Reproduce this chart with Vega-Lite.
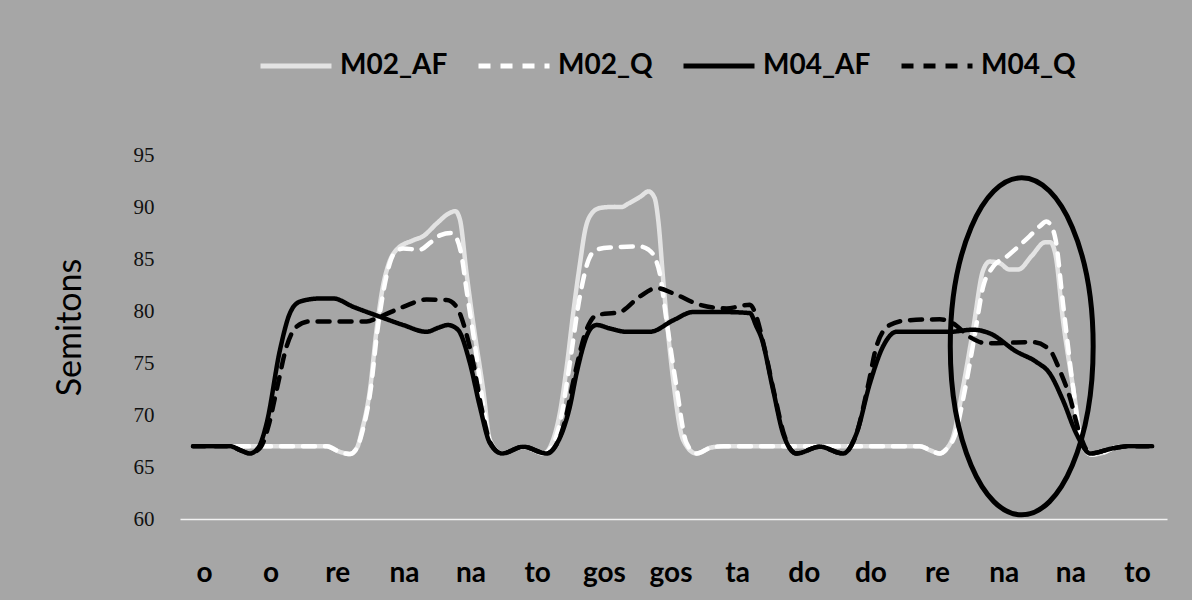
{
  "$schema": "https://vega.github.io/schema/vega-lite/v6.json",
  "width": 987,
  "height": 364,
  "autosize": "none",
  "padding": {"left": 180, "top": 155, "right": 25, "bottom": 81},
  "background": "#a6a6a6",
  "config": {"view": {"stroke": null}, "font": "Lato"},
  "datasets": {
    "contours": [
      {"s": "M02_AF", "t": -0.165, "v": 67}, {"s": "M02_AF", "t": 0.4, "v": 67}, {"s": "M02_AF", "t": 1.0, "v": 67}, {"s": "M02_AF", "t": 1.6, "v": 67}, {"s": "M02_AF", "t": 1.84, "v": 67}, {"s": "M02_AF", "t": 2.02, "v": 66.5}, {"s": "M02_AF", "t": 2.19, "v": 66.25}, {"s": "M02_AF", "t": 2.3, "v": 66.9}, {"s": "M02_AF", "t": 2.37, "v": 68.5}, {"s": "M02_AF", "t": 2.49, "v": 72.4}, {"s": "M02_AF", "t": 2.59, "v": 78.2}, {"s": "M02_AF", "t": 2.68, "v": 82.2}, {"s": "M02_AF", "t": 2.77, "v": 84.5}, {"s": "M02_AF", "t": 2.89, "v": 85.9}, {"s": "M02_AF", "t": 3.14, "v": 86.8}, {"s": "M02_AF", "t": 3.29, "v": 87.2}, {"s": "M02_AF", "t": 3.49, "v": 88.4}, {"s": "M02_AF", "t": 3.68, "v": 89.4}, {"s": "M02_AF", "t": 3.77, "v": 89.6}, {"s": "M02_AF", "t": 3.84, "v": 88.8}, {"s": "M02_AF", "t": 3.94, "v": 83.6}, {"s": "M02_AF", "t": 4.04, "v": 78.8}, {"s": "M02_AF", "t": 4.19, "v": 72.4}, {"s": "M02_AF", "t": 4.29, "v": 67.6}, {"s": "M02_AF", "t": 4.47, "v": 66.3}, {"s": "M02_AF", "t": 4.79, "v": 66.95}, {"s": "M02_AF", "t": 5.1, "v": 66.3}, {"s": "M02_AF", "t": 5.22, "v": 67.3}, {"s": "M02_AF", "t": 5.34, "v": 70.2}, {"s": "M02_AF", "t": 5.45, "v": 75.0}, {"s": "M02_AF", "t": 5.54, "v": 79.8}, {"s": "M02_AF", "t": 5.64, "v": 84.5}, {"s": "M02_AF", "t": 5.72, "v": 87.8}, {"s": "M02_AF", "t": 5.82, "v": 89.4}, {"s": "M02_AF", "t": 5.94, "v": 89.9}, {"s": "M02_AF", "t": 6.1, "v": 90.0}, {"s": "M02_AF", "t": 6.27, "v": 90.0}, {"s": "M02_AF", "t": 6.36, "v": 90.3}, {"s": "M02_AF", "t": 6.55, "v": 91.0}, {"s": "M02_AF", "t": 6.67, "v": 91.5}, {"s": "M02_AF", "t": 6.76, "v": 90.9}, {"s": "M02_AF", "t": 6.82, "v": 88.5}, {"s": "M02_AF", "t": 6.89, "v": 83.0}, {"s": "M02_AF", "t": 7.04, "v": 73.4}, {"s": "M02_AF", "t": 7.19, "v": 67.6}, {"s": "M02_AF", "t": 7.39, "v": 66.3}, {"s": "M02_AF", "t": 7.6, "v": 66.85}, {"s": "M02_AF", "t": 7.8, "v": 67}, {"s": "M02_AF", "t": 8.5, "v": 67}, {"s": "M02_AF", "t": 9.5, "v": 67}, {"s": "M02_AF", "t": 10.5, "v": 67}, {"s": "M02_AF", "t": 10.74, "v": 67}, {"s": "M02_AF", "t": 10.9, "v": 66.6}, {"s": "M02_AF", "t": 11.04, "v": 66.3}, {"s": "M02_AF", "t": 11.15, "v": 66.8}, {"s": "M02_AF", "t": 11.24, "v": 67.9}, {"s": "M02_AF", "t": 11.39, "v": 72.7}, {"s": "M02_AF", "t": 11.54, "v": 78.2}, {"s": "M02_AF", "t": 11.69, "v": 83.9}, {"s": "M02_AF", "t": 11.79, "v": 84.75}, {"s": "M02_AF", "t": 11.94, "v": 84.6}, {"s": "M02_AF", "t": 12.08, "v": 84.0}, {"s": "M02_AF", "t": 12.22, "v": 84.0}, {"s": "M02_AF", "t": 12.42, "v": 85.3}, {"s": "M02_AF", "t": 12.62, "v": 86.6}, {"s": "M02_AF", "t": 12.7, "v": 86.6}, {"s": "M02_AF", "t": 12.78, "v": 85.3}, {"s": "M02_AF", "t": 12.89, "v": 79.1}, {"s": "M02_AF", "t": 13.04, "v": 72.7}, {"s": "M02_AF", "t": 13.19, "v": 66.9}, {"s": "M02_AF", "t": 13.32, "v": 66.2}, {"s": "M02_AF", "t": 13.5, "v": 66.4}, {"s": "M02_AF", "t": 13.64, "v": 66.8}, {"s": "M02_AF", "t": 13.85, "v": 67}, {"s": "M02_AF", "t": 14.23, "v": 67},

      {"s": "M02_Q", "t": -0.165, "v": 67}, {"s": "M02_Q", "t": 0.4, "v": 67}, {"s": "M02_Q", "t": 1.0, "v": 67}, {"s": "M02_Q", "t": 1.6, "v": 67}, {"s": "M02_Q", "t": 1.84, "v": 67}, {"s": "M02_Q", "t": 2.02, "v": 66.5}, {"s": "M02_Q", "t": 2.19, "v": 66.25}, {"s": "M02_Q", "t": 2.3, "v": 66.9}, {"s": "M02_Q", "t": 2.38, "v": 68.5}, {"s": "M02_Q", "t": 2.5, "v": 72.4}, {"s": "M02_Q", "t": 2.6, "v": 78.0}, {"s": "M02_Q", "t": 2.69, "v": 81.8}, {"s": "M02_Q", "t": 2.77, "v": 84.2}, {"s": "M02_Q", "t": 2.86, "v": 85.6}, {"s": "M02_Q", "t": 2.99, "v": 86.0}, {"s": "M02_Q", "t": 3.24, "v": 85.9}, {"s": "M02_Q", "t": 3.4, "v": 86.6}, {"s": "M02_Q", "t": 3.55, "v": 87.3}, {"s": "M02_Q", "t": 3.7, "v": 87.5}, {"s": "M02_Q", "t": 3.78, "v": 87.1}, {"s": "M02_Q", "t": 3.86, "v": 85.5}, {"s": "M02_Q", "t": 3.94, "v": 82.0}, {"s": "M02_Q", "t": 4.09, "v": 75.6}, {"s": "M02_Q", "t": 4.2, "v": 70.5}, {"s": "M02_Q", "t": 4.3, "v": 67.3}, {"s": "M02_Q", "t": 4.47, "v": 66.3}, {"s": "M02_Q", "t": 4.79, "v": 66.95}, {"s": "M02_Q", "t": 5.1, "v": 66.3}, {"s": "M02_Q", "t": 5.24, "v": 67.2}, {"s": "M02_Q", "t": 5.36, "v": 69.8}, {"s": "M02_Q", "t": 5.49, "v": 75.0}, {"s": "M02_Q", "t": 5.64, "v": 81.4}, {"s": "M02_Q", "t": 5.77, "v": 84.9}, {"s": "M02_Q", "t": 5.89, "v": 85.9}, {"s": "M02_Q", "t": 6.09, "v": 86.1}, {"s": "M02_Q", "t": 6.54, "v": 86.2}, {"s": "M02_Q", "t": 6.67, "v": 85.9}, {"s": "M02_Q", "t": 6.76, "v": 85.2}, {"s": "M02_Q", "t": 6.84, "v": 83.6}, {"s": "M02_Q", "t": 6.94, "v": 79.1}, {"s": "M02_Q", "t": 7.09, "v": 72.7}, {"s": "M02_Q", "t": 7.24, "v": 67.3}, {"s": "M02_Q", "t": 7.39, "v": 66.3}, {"s": "M02_Q", "t": 7.6, "v": 66.85}, {"s": "M02_Q", "t": 7.8, "v": 67}, {"s": "M02_Q", "t": 8.5, "v": 67}, {"s": "M02_Q", "t": 9.5, "v": 67}, {"s": "M02_Q", "t": 10.5, "v": 67}, {"s": "M02_Q", "t": 10.74, "v": 67}, {"s": "M02_Q", "t": 10.9, "v": 66.6}, {"s": "M02_Q", "t": 11.04, "v": 66.3}, {"s": "M02_Q", "t": 11.15, "v": 66.8}, {"s": "M02_Q", "t": 11.26, "v": 67.9}, {"s": "M02_Q", "t": 11.42, "v": 72.5}, {"s": "M02_Q", "t": 11.56, "v": 77.5}, {"s": "M02_Q", "t": 11.69, "v": 82.3}, {"s": "M02_Q", "t": 11.84, "v": 84.25}, {"s": "M02_Q", "t": 12.04, "v": 85.2}, {"s": "M02_Q", "t": 12.22, "v": 86.2}, {"s": "M02_Q", "t": 12.39, "v": 87.2}, {"s": "M02_Q", "t": 12.55, "v": 88.2}, {"s": "M02_Q", "t": 12.64, "v": 88.6}, {"s": "M02_Q", "t": 12.72, "v": 88.1}, {"s": "M02_Q", "t": 12.78, "v": 86.8}, {"s": "M02_Q", "t": 12.89, "v": 80.7}, {"s": "M02_Q", "t": 13.04, "v": 72.7}, {"s": "M02_Q", "t": 13.16, "v": 67.6}, {"s": "M02_Q", "t": 13.32, "v": 66.2}, {"s": "M02_Q", "t": 13.5, "v": 66.4}, {"s": "M02_Q", "t": 13.64, "v": 66.8}, {"s": "M02_Q", "t": 13.85, "v": 67}, {"s": "M02_Q", "t": 14.23, "v": 67},

      {"s": "M04_AF", "t": -0.165, "v": 67}, {"s": "M04_AF", "t": 0.39, "v": 67}, {"s": "M04_AF", "t": 0.55, "v": 66.6}, {"s": "M04_AF", "t": 0.69, "v": 66.3}, {"s": "M04_AF", "t": 0.82, "v": 66.9}, {"s": "M04_AF", "t": 0.94, "v": 69.2}, {"s": "M04_AF", "t": 1.14, "v": 76.25}, {"s": "M04_AF", "t": 1.29, "v": 79.8}, {"s": "M04_AF", "t": 1.44, "v": 80.9}, {"s": "M04_AF", "t": 1.74, "v": 81.2}, {"s": "M04_AF", "t": 1.94, "v": 81.2}, {"s": "M04_AF", "t": 2.24, "v": 80.4}, {"s": "M04_AF", "t": 2.64, "v": 79.45}, {"s": "M04_AF", "t": 2.99, "v": 78.65}, {"s": "M04_AF", "t": 3.34, "v": 78.0}, {"s": "M04_AF", "t": 3.52, "v": 78.4}, {"s": "M04_AF", "t": 3.66, "v": 78.65}, {"s": "M04_AF", "t": 3.81, "v": 78.2}, {"s": "M04_AF", "t": 3.99, "v": 75.0}, {"s": "M04_AF", "t": 4.14, "v": 70.8}, {"s": "M04_AF", "t": 4.29, "v": 67.3}, {"s": "M04_AF", "t": 4.47, "v": 66.3}, {"s": "M04_AF", "t": 4.79, "v": 66.95}, {"s": "M04_AF", "t": 5.14, "v": 66.3}, {"s": "M04_AF", "t": 5.3, "v": 67.3}, {"s": "M04_AF", "t": 5.39, "v": 68.6}, {"s": "M04_AF", "t": 5.49, "v": 70.8}, {"s": "M04_AF", "t": 5.59, "v": 74.0}, {"s": "M04_AF", "t": 5.79, "v": 78.2}, {"s": "M04_AF", "t": 5.89, "v": 78.65}, {"s": "M04_AF", "t": 6.1, "v": 78.3}, {"s": "M04_AF", "t": 6.34, "v": 78.0}, {"s": "M04_AF", "t": 6.69, "v": 78.0}, {"s": "M04_AF", "t": 7.04, "v": 79.1}, {"s": "M04_AF", "t": 7.34, "v": 79.9}, {"s": "M04_AF", "t": 7.79, "v": 79.9}, {"s": "M04_AF", "t": 8.19, "v": 79.8}, {"s": "M04_AF", "t": 8.29, "v": 78.5}, {"s": "M04_AF", "t": 8.36, "v": 77.5}, {"s": "M04_AF", "t": 8.54, "v": 72.4}, {"s": "M04_AF", "t": 8.69, "v": 68.2}, {"s": "M04_AF", "t": 8.89, "v": 66.3}, {"s": "M04_AF", "t": 9.24, "v": 66.95}, {"s": "M04_AF", "t": 9.59, "v": 66.3}, {"s": "M04_AF", "t": 9.79, "v": 68.2}, {"s": "M04_AF", "t": 9.99, "v": 73.0}, {"s": "M04_AF", "t": 10.19, "v": 76.6}, {"s": "M04_AF", "t": 10.39, "v": 78.0}, {"s": "M04_AF", "t": 11.19, "v": 78.0}, {"s": "M04_AF", "t": 11.54, "v": 78.2}, {"s": "M04_AF", "t": 11.79, "v": 77.85}, {"s": "M04_AF", "t": 12.19, "v": 76.1}, {"s": "M04_AF", "t": 12.49, "v": 75.1}, {"s": "M04_AF", "t": 12.69, "v": 74.0}, {"s": "M04_AF", "t": 12.89, "v": 71.4}, {"s": "M04_AF", "t": 13.09, "v": 68.2}, {"s": "M04_AF", "t": 13.3, "v": 66.3}, {"s": "M04_AF", "t": 13.64, "v": 66.8}, {"s": "M04_AF", "t": 13.9, "v": 67}, {"s": "M04_AF", "t": 14.23, "v": 67},

      {"s": "M04_Q", "t": -0.165, "v": 67}, {"s": "M04_Q", "t": 0.39, "v": 67}, {"s": "M04_Q", "t": 0.55, "v": 66.6}, {"s": "M04_Q", "t": 0.69, "v": 66.3}, {"s": "M04_Q", "t": 0.85, "v": 66.9}, {"s": "M04_Q", "t": 0.97, "v": 69.0}, {"s": "M04_Q", "t": 1.09, "v": 72.4}, {"s": "M04_Q", "t": 1.24, "v": 76.6}, {"s": "M04_Q", "t": 1.39, "v": 78.5}, {"s": "M04_Q", "t": 1.59, "v": 79.0}, {"s": "M04_Q", "t": 2.44, "v": 79.0}, {"s": "M04_Q", "t": 2.64, "v": 79.45}, {"s": "M04_Q", "t": 2.99, "v": 80.4}, {"s": "M04_Q", "t": 3.34, "v": 81.1}, {"s": "M04_Q", "t": 3.64, "v": 81.05}, {"s": "M04_Q", "t": 3.79, "v": 80.4}, {"s": "M04_Q", "t": 3.92, "v": 78.2}, {"s": "M04_Q", "t": 4.04, "v": 75.0}, {"s": "M04_Q", "t": 4.17, "v": 70.5}, {"s": "M04_Q", "t": 4.3, "v": 67.3}, {"s": "M04_Q", "t": 4.47, "v": 66.3}, {"s": "M04_Q", "t": 4.79, "v": 66.95}, {"s": "M04_Q", "t": 5.14, "v": 66.3}, {"s": "M04_Q", "t": 5.3, "v": 67.3}, {"s": "M04_Q", "t": 5.42, "v": 69.5}, {"s": "M04_Q", "t": 5.55, "v": 73.5}, {"s": "M04_Q", "t": 5.74, "v": 78.2}, {"s": "M04_Q", "t": 5.89, "v": 79.6}, {"s": "M04_Q", "t": 6.24, "v": 79.9}, {"s": "M04_Q", "t": 6.54, "v": 81.4}, {"s": "M04_Q", "t": 6.79, "v": 82.2}, {"s": "M04_Q", "t": 7.04, "v": 81.7}, {"s": "M04_Q", "t": 7.44, "v": 80.6}, {"s": "M04_Q", "t": 7.84, "v": 80.25}, {"s": "M04_Q", "t": 8.19, "v": 80.6}, {"s": "M04_Q", "t": 8.29, "v": 79.45}, {"s": "M04_Q", "t": 8.39, "v": 77.0}, {"s": "M04_Q", "t": 8.56, "v": 72.0}, {"s": "M04_Q", "t": 8.71, "v": 68.0}, {"s": "M04_Q", "t": 8.89, "v": 66.3}, {"s": "M04_Q", "t": 9.24, "v": 66.95}, {"s": "M04_Q", "t": 9.59, "v": 66.3}, {"s": "M04_Q", "t": 9.79, "v": 68.2}, {"s": "M04_Q", "t": 9.97, "v": 73.0}, {"s": "M04_Q", "t": 10.09, "v": 76.6}, {"s": "M04_Q", "t": 10.29, "v": 78.65}, {"s": "M04_Q", "t": 10.54, "v": 79.1}, {"s": "M04_Q", "t": 11.04, "v": 79.2}, {"s": "M04_Q", "t": 11.24, "v": 78.8}, {"s": "M04_Q", "t": 11.49, "v": 77.5}, {"s": "M04_Q", "t": 11.74, "v": 76.9}, {"s": "M04_Q", "t": 12.44, "v": 77.0}, {"s": "M04_Q", "t": 12.69, "v": 76.25}, {"s": "M04_Q", "t": 12.84, "v": 74.3}, {"s": "M04_Q", "t": 12.99, "v": 71.75}, {"s": "M04_Q", "t": 13.14, "v": 68.2}, {"s": "M04_Q", "t": 13.3, "v": 66.3}, {"s": "M04_Q", "t": 13.64, "v": 66.8}, {"s": "M04_Q", "t": 13.9, "v": 67}, {"s": "M04_Q", "t": 14.23, "v": 67}
    ],
    "highlight": [
      {"t": 12.27, "v": 76.6}
    ]
  },
  "encoding": {
    "x": {
      "field": "t",
      "type": "quantitative",
      "scale": {"domain": [-0.36, 14.45], "nice": false, "zero": false},
      "axis": {
        "title": null,
        "values": [0, 1, 2, 3, 4, 5, 6, 7, 8, 9, 10, 11, 12, 13, 14],
        "labelExpr": "['o','o','re','na','na','to','gos','gos','ta','do','do','re','na','na','to'][datum.value]",
        "ticks": false,
        "tickSize": 0,
        "grid": false,
        "domainColor": "#f2f2f2",
        "domainWidth": 1.5,
        "labelFont": "Lato",
        "labelFontWeight": "bold",
        "labelFontSize": 28,
        "labelColor": "#000000",
        "labelBaseline": "alphabetic",
        "labelPadding": 62,
        "labelFlush": false,
        "labelOverlap": false
      }
    },
    "y": {
      "field": "v",
      "type": "quantitative",
      "scale": {"domain": [60, 95], "nice": false, "zero": false},
      "axis": {
        "values": [60, 65, 70, 75, 80, 85, 90, 95],
        "domain": false,
        "ticks": false,
        "tickSize": 0,
        "grid": false,
        "labelFont": "Liberation Serif",
        "labelFontSize": 21,
        "labelColor": "#111111",
        "labelPadding": 26,
        "title": "Semitons",
        "titleFont": "Lato",
        "titleFontSize": 34,
        "titleFontWeight": "normal",
        "titleColor": "#000000",
        "titleBaseline": "alphabetic",
        "titleAlign": "center",
        "titleX": -100,
        "titleY": 172
      }
    }
  },
  "layer": [
    {
      "data": {"name": "contours"},
      "mark": {"type": "line", "interpolate": "monotone", "strokeWidth": 4.5, "strokeCap": "round", "strokeJoin": "round"},
      "encoding": {
        "color": {
          "field": "s",
          "type": "nominal",
          "scale": {"domain": ["M02_AF", "M02_Q", "M04_AF", "M04_Q"], "range": ["#e3e3e3", "#ffffff", "#000000", "#000000"]},
          "legend": {
            "title": null,
            "orient": "none",
            "direction": "horizontal",
            "columns": 4,
            "legendX": 78,
            "legendY": -127,
            "symbolType": "stroke",
            "symbolSize": 5041,
            "symbolStrokeWidth": 5,
            "labelFont": "Lato",
            "labelFontSize": 28,
            "labelFontWeight": "bold",
            "labelColor": "#000000",
            "labelOffset": 6,
            "columnPadding": 20
          }
        },
        "strokeDash": {
          "field": "s",
          "type": "nominal",
          "scale": {"domain": ["M02_AF", "M02_Q", "M04_AF", "M04_Q"], "range": [[1, 0], [12, 10], [1, 0], [12, 10]]}
        }
      }
    },
    {
      "data": {"name": "highlight"},
      "mark": {
        "type": "point",
        "shape": "M0,-1 C0.2342,-1 0.424,-0.5523 0.424,0 C0.424,0.5523 0.2342,1 0,1 C-0.2342,1 -0.424,0.5523 -0.424,0 C-0.424,-0.5523 -0.2342,-1 0,-1 Z",
        "size": 113569,
        "filled": false,
        "stroke": "#000000",
        "strokeWidth": 5,
        "opacity": 1
      }
    }
  ]
}
